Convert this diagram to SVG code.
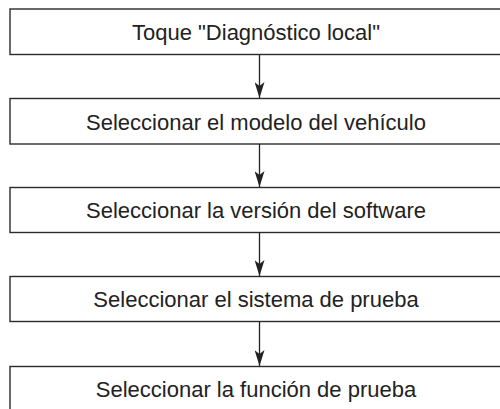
<svg xmlns="http://www.w3.org/2000/svg" width="500" height="409" viewBox="0 0 500 409">
<style>
.box{fill:#fff;stroke:#2b2b2b;stroke-width:1.4}
.lbl{font-family:"Liberation Sans",Arial,sans-serif;font-size:22px;fill:#222;text-anchor:middle}
.con{stroke:#222;stroke-width:1.3;fill:none}
</style>
<defs>
<marker id="ah" markerUnits="userSpaceOnUse" markerWidth="16" markerHeight="10" refX="16" refY="5" orient="auto" viewBox="0 0 16 10">
<path d="M0,0 L16,5 L0,10 L4,5 Z" fill="#222"/>
</marker>
</defs>
<rect width="500" height="409" fill="#fff"/>
<g id="n1"><rect class="box" x="10" y="9" width="492" height="45.5"/><text class="lbl" x="256" y="40">Toque "Diagnóstico local"</text></g>
<g id="n2"><rect class="box" x="10" y="98.5" width="492" height="45.5"/><text class="lbl" x="256" y="129.5">Seleccionar el modelo del vehículo</text></g>
<g id="n3"><rect class="box" x="10" y="187.5" width="492" height="45"/><text class="lbl" x="256" y="218">Seleccionar la versión del software</text></g>
<g id="n4"><rect class="box" x="10" y="276.5" width="492" height="45"/><text class="lbl" x="256" y="307">Seleccionar el sistema de prueba</text></g>
<g id="n5"><rect class="box" x="10" y="366.5" width="492" height="50"/><text class="lbl" x="256" y="397">Seleccionar la función de prueba</text></g>
<g id="connectors">
<line class="con" x1="259.5" y1="54.5" x2="259.5" y2="98" marker-end="url(#ah)"/>
<line class="con" x1="259.5" y1="144" x2="259.5" y2="187" marker-end="url(#ah)"/>
<line class="con" x1="259.5" y1="232.5" x2="259.5" y2="276" marker-end="url(#ah)"/>
<line class="con" x1="259.5" y1="321.5" x2="259.5" y2="366" marker-end="url(#ah)"/>
</g>
</svg>
